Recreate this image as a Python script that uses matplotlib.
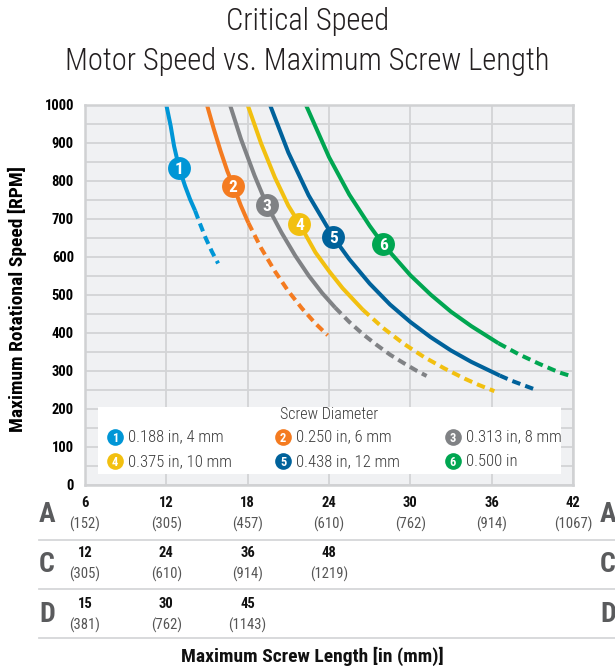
import matplotlib
matplotlib.use("Agg")
import matplotlib.pyplot as plt
from matplotlib.patches import Rectangle
from matplotlib.transforms import blended_transform_factory

# screw length [in] and critical speed [rpm]
len_1 = [12.0, 12.32, 12.57, 12.94, 13.38, 13.75, 14.12]
rpm_1 = [1000, 945, 892, 835, 787, 752, 722]
len_1d = [14.12, 14.5, 14.9, 15.35, 15.82]
rpm_1d = [722, 686, 650, 615, 583]

len_2 = [15.0, 15.5, 16.0, 16.5, 16.94, 17.5, 18.05]
rpm_2 = [1000, 937, 879, 826, 787, 735, 690]
len_2d = [18.05, 19.0, 20.0, 21.0, 22.0, 23.0, 23.9]
rpm_2d = [690, 623, 563, 510, 465, 425, 394]

len_3 = [16.7, 17.5, 18.5, 19.41, 20.5, 21.5, 22.5, 23.5, 24.45]
rpm_3 = [1000, 911, 815, 737, 664, 604, 551, 505, 467]
len_3d = [24.45, 25.5, 26.5, 27.5, 28.5, 29.5, 30.5, 31.2]
rpm_3d = [467, 429, 397, 369, 343, 321, 300, 287]

len_4 = [18.0, 19.0, 20.0, 21.0, 21.81, 23.0, 24.0, 25.0, 26.5]
rpm_4 = [1000, 898, 810, 735, 688, 612, 563, 518, 461]
len_4d = [26.5, 28.0, 29.5, 31.0, 32.5, 34.0, 35.0, 36.2]
rpm_4d = [461, 413, 372, 337, 307, 280, 264, 247]

len_5 = [19.65, 21.0, 22.5, 24.32, 25.5, 27.0, 28.5, 30.0, 31.5, 33.0, 34.5, 36.6]
rpm_5 = [1000, 875, 762, 652, 594, 530, 475, 429, 389, 354, 324, 288]
len_5d = [36.6, 37.5, 38.4, 39.3]
rpm_5d = [288, 274, 262, 250]

len_6 = [22.3, 24.0, 25.5, 27.0, 28.0, 30.0, 31.5, 33.0, 34.5, 36.5]
rpm_6 = [1000, 863, 764, 682, 633, 552, 501, 456, 418, 373]
len_6d = [36.5, 38.0, 39.5, 41.0, 42.0]
rpm_6d = [373, 344, 319, 296, 285]

# numbered badges on the curves
badge_len = [12.94, 16.94, 19.41, 21.81, 24.32, 28.0]
badge_rpm = [835, 787, 737, 688, 652, 633]

diameters = ["0.188 in, 4 mm", "0.250 in, 6 mm", "0.313 in, 8 mm",
             "0.375 in, 10 mm", "0.438 in, 12 mm", "0.500 in"]
colors = ["#0096D6", "#F47B20", "#808285", "#F2C010", "#00629B", "#00A651"]

# length scale table below the chart
row_names = ["A", "C", "D"]
row_a_in = [6, 12, 18, 24, 30, 36, 42]
row_a_mm = [152, 305, 457, 610, 762, 914, 1067]
row_c_in = [12, 24, 36, 48]
row_c_mm = [305, 610, 914, 1219]
row_d_in = [15, 30, 45]
row_d_mm = [381, 762, 1143]

yticks = list(range(0, 1001, 100))

plt.rcParams["font.family"] = ["Roboto Condensed", "DejaVu Sans"]

W, H = 615, 669
fig = plt.figure(figsize=(W / 100, H / 100), dpi=100)
ax = fig.add_axes([85 / W, 1 - 485 / H, 488 / W, 380 / H])
ax.set_facecolor("#F0F1F3")
ax.set_xlim(6, 42)
ax.set_ylim(0, 1000)

ax.set_xticks(row_a_in)
ax.set_xticklabels([])
ax.set_yticks(yticks)
ax.set_yticks(range(50, 1000, 100), minor=True)
ax.tick_params(axis="both", which="both", length=0)
ax.tick_params(axis="y", pad=8, labelsize=10.5)
for lab in ax.get_yticklabels():
    lab.set_fontweight("bold")
ax.grid(True, which="both", color="#D3D4D6", linewidth=1.3)
ax.set_axisbelow(True)
for s in ax.spines.values():
    s.set_color("#D0D1D3")
    s.set_linewidth(1.8)

curves = [(len_1, rpm_1, len_1d, rpm_1d), (len_2, rpm_2, len_2d, rpm_2d),
          (len_3, rpm_3, len_3d, rpm_3d), (len_4, rpm_4, len_4d, rpm_4d),
          (len_5, rpm_5, len_5d, rpm_5d), (len_6, rpm_6, len_6d, rpm_6d)]
for i, (xs, ys, xd, yd) in enumerate(curves):
    ax.plot(xs, ys, color=colors[i], lw=2.9, solid_capstyle="butt")
    ax.plot(xd, yd, color=colors[i], lw=2.9, dashes=(2.1, 1.3), dash_capstyle="butt")
    ax.plot(badge_len[i], badge_rpm[i], "o", ms=16.5, color=colors[i], mec="none", zorder=5)
    ax.text(badge_len[i], badge_rpm[i], str(i + 1), color="white", fontsize=12.5,
            fontweight="bold", ha="center", va="center_baseline", zorder=6)

# legend box
ax.add_patch(Rectangle((0.027, 0.029), 0.948, 0.176, transform=ax.transAxes,
                       facecolor="white", edgecolor="none", zorder=7))
ax.text(0.501, 0.186, "Screw Diameter", transform=ax.transAxes, ha="center",
        va="center", fontsize=11.5, fontweight="light", color="#3A3A3A", zorder=8)
col_x = [0.0615, 0.406, 0.754]
row_y = [0.126, 0.062]
for i, lab in enumerate(diameters):
    cx = col_x[i % 3]
    cy = row_y[i // 3]
    ax.plot(cx, cy, "o", ms=12, color=colors[i], mec="none", transform=ax.transAxes,
            zorder=8, clip_on=False)
    ax.text(cx, cy, str(i + 1), transform=ax.transAxes, color="white", fontsize=9,
            fontweight="bold", ha="center", va="center_baseline", zorder=9)
    ax.text(cx + 0.026, cy, lab, transform=ax.transAxes, ha="left", va="center",
            fontsize=12, fontweight="light", color="#3A3A3A", zorder=8)

ax.set_ylabel("Maximum Rotational Speed [RPM]", fontsize=14, fontweight="bold")
ax.yaxis.set_label_coords((27 - 85) / 488, 0.49)

# titles
fig.text(0.5, 1 - 22 / H, "Critical Speed", ha="center", va="center",
         fontsize=22, fontweight="light", color="#231F20")
fig.text(0.5, 1 - 62 / H, "Motor Speed vs. Maximum Screw Length", ha="center",
         va="center", fontsize=22, fontweight="light", color="#231F20")

# length table
tr = blended_transform_factory(ax.transData, fig.transFigure)
rows = [(row_a_in, row_a_mm), (row_c_in, row_c_mm), (row_d_in, row_d_mm)]
row_top = [503, 553, 604]
for r, (vals, mms) in enumerate(rows):
    y1 = 1 - row_top[r] / H
    y2 = 1 - (row_top[r] + 21) / H
    for k, (v, mm) in enumerate(zip(vals, mms)):
        xpos = row_a_in[k]
        ax.text(xpos, y1, str(v), transform=tr, ha="center", va="center",
                fontsize=10.5, fontweight="bold", color="#111111")
        ax.text(xpos, y2, "(%d)" % mm, transform=tr, ha="center", va="center",
                fontsize=10.5, color="#555555")
    yl = 1 - (row_top[r] + 11) / H
    fig.text(47 / W, yl, row_names[r], ha="center", va="center", fontsize=20,
             fontweight="bold", color="#5A5B5D")
    fig.text(608 / W, yl, row_names[r], ha="center", va="center", fontsize=20,
             fontweight="bold", color="#5A5B5D")
    ysep = 1 - (540 + r * 49) / H
    fig.add_artist(plt.Line2D([39 / W, 1.0], [ysep, ysep], color="#D6D7D9",
                              lw=1.3, transform=fig.transFigure))

fig.text(0.508, 1 - 656 / H, "Maximum Screw Length [in (mm)]", ha="center",
         va="center", fontsize=14, fontweight="bold", color="#111111")

fig.savefig("out.png", dpi=100)
